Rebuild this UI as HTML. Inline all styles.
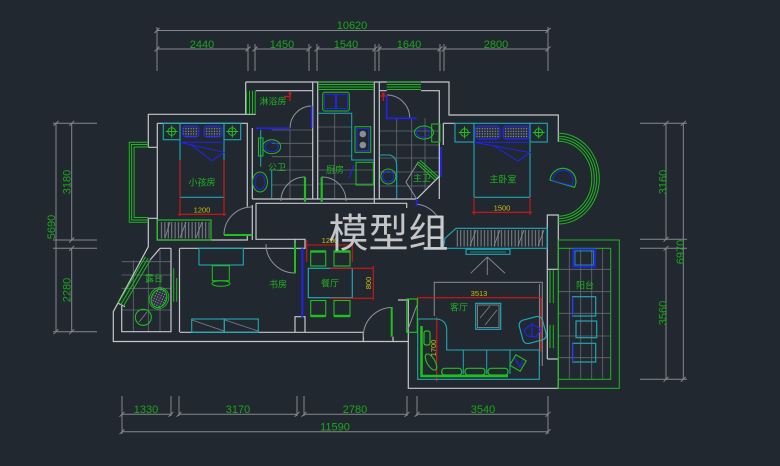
<!DOCTYPE html>
<html><head><meta charset="utf-8"><style>
html,body{margin:0;padding:0;background:#212830;}
svg{display:block}
text{font-family:"Liberation Sans","Noto Sans CJK SC",sans-serif;}
</style></head><body>
<svg width="780" height="466" viewBox="0 0 780 466" xmlns="http://www.w3.org/2000/svg">
<defs>
<pattern id="dots" width="2.6" height="2.6" patternUnits="userSpaceOnUse"><rect width="2.6" height="2.6" fill="#283040"/><circle cx="1.3" cy="1.3" r="0.6" fill="#a0a0a8"/></pattern>
<pattern id="hatch" width="3.4" height="30" patternUnits="userSpaceOnUse"><line x1="1.7" y1="0" x2="1.7" y2="30" stroke="#8e9196" stroke-width="0.9"/></pattern>
</defs>
<rect width="780" height="466" fill="#212830"/>

<!-- ================= DIMENSIONS ================= -->
<g stroke="#84878c" stroke-width="1" fill="none">
<!-- top -->
<path d="M157 30.5H548 M157 27V71 M548 27V71 M248 44V71 M255 44V71 M309 44V71 M317 44V71 M375 44V71 M379 44V71 M440 44V71 M444 44V71
M157 49H248 M255 49H309 M317 49H375 M379 49H440 M444 49H548"/>
<path d="M154.5 33L159.5 28 M545.5 33L550.5 28 M154.5 51.5L159.5 46.5 M245.5 51.5L250.5 46.5 M252.5 51.5L257.5 46.5 M306.5 51.5L311.5 46.5 M314.5 51.5L319.5 46.5 M372.5 51.5L377.5 46.5 M376.5 51.5L381.5 46.5 M437.5 51.5L442.5 46.5 M441.5 51.5L446.5 46.5 M545.5 51.5L550.5 46.5"/>
<!-- bottom -->
<path d="M122 396V434 M171 396V416 M179 396V416 M297 396V416 M304 396V416 M407 396V416 M417 396V416 M548 396V434
M122 414.3H171 M179 414.3H297 M304 414.3H407 M417 414.3H548 M122 431.7H548"/>
<path d="M119.5 416.8L124.5 411.8 M168.5 416.8L173.5 411.8 M176.5 416.8L181.5 411.8 M294.5 416.8L299.5 411.8 M301.5 416.8L306.5 411.8 M404.5 416.8L409.5 411.8 M414.5 416.8L419.5 411.8 M545.5 416.8L550.5 411.8 M119.5 434.2L124.5 429.2 M545.5 434.2L550.5 429.2"/>
<!-- left -->
<path d="M53 123.3H97 M53 240H97 M53 248.3H97 M53 331.7H97 M56 123.3V331.7 M71.7 123.3V240 M71.7 248.3V331.7"/>
<path d="M53.5 125.8L58.5 120.8 M53.5 334.2L58.5 329.2 M69.2 125.8L74.2 120.8 M69.2 242.5L74.2 237.5 M69.2 250.8L74.2 245.8 M69.2 334.2L74.2 329.2"/>
<!-- right -->
<path d="M640 123.3H687 M640 239.3H687 M640 248.3H687 M640 379.3H687 M666 123.3V239.3 M666 248.3V379.3 M683.3 123.3V379.3"/>
<path d="M663.5 125.8L668.5 120.8 M663.5 241.8L668.5 236.8 M663.5 250.8L668.5 245.8 M663.5 381.8L668.5 376.8 M680.8 125.8L685.8 120.8 M680.8 381.8L685.8 376.8"/>
</g>
<g fill="#1ea51e" font-size="11" text-anchor="middle">
<text x="352" y="29">10620</text>
<text x="202" y="48">2440</text>
<text x="282" y="48">1450</text>
<text x="346" y="48">1540</text>
<text x="409" y="48">1640</text>
<text x="496" y="48">2800</text>
<text x="146" y="413">1330</text>
<text x="238" y="413">3170</text>
<text x="355" y="413">2780</text>
<text x="483" y="413">3540</text>
<text x="335" y="430.5">11590</text>
<text transform="translate(70.5,182) rotate(-90)">3180</text>
<text transform="translate(55,227) rotate(-90)">5690</text>
<text transform="translate(70.5,290) rotate(-90)">2280</text>
<text transform="translate(666.5,182) rotate(-90)">3160</text>
<text transform="translate(684,252) rotate(-90)">6970</text>
<text transform="translate(666.5,313) rotate(-90)">3560</text>
</g>

<!-- ================= FLOOR GRIDS ================= -->
<g stroke="#666a70" stroke-width="0.8" fill="none">
<!-- public bath -->
<path d="M271.7 130H312.7 M271.7 143.3H312.7 M271.7 156.7H312.7 M271.7 170H312.7 M271.7 185H312.7 M290 130V199"/>
<!-- kitchen -->
<path d="M317.7 127H351.7 M317.7 141H351.7 M317.7 156H351.7 M317.7 170H374 M317.7 184H374 M334.7 113.3V199"/>
<!-- master bath -->
<path d="M379.3 131H440 M379.3 145H440 M379.3 158H440 M379.3 172H440 M379.3 186H430 M396.7 118.3V199 M411.7 118.3V199 M425 118.3V190"/>
<!-- terrace -->
<path d="M121.7 261.7H170.7 M121.7 275H170.7 M121.7 288.3H170.7 M121.7 310H170.7 M133.3 260V331.7 M148.3 260V331.7 M160 250V331.7"/>
<!-- balcony -->
<path d="M569.3 248.3V379.3 M580.7 248.3V379.3 M591.7 248.3V379.3 M602.7 248.3V379.3 M558.3 269.3H610.7 M558.3 291.7H610.7 M558.3 313.3H610.7 M558.3 336H610.7 M558.3 357.7H610.7"/>
</g>

<!-- ================= WALLS ================= -->
<g stroke="#c5c7cb" stroke-width="1.2" fill="none">
<path d="M148.3 147.3V114.3H255.7 M148.3 147.3H157.3 M148.3 218.3H157.3 M148.3 218.3V246.7L113.3 311.7V341.5H408.3"/>
<path d="M157.3 123.3H247.3V206.7 M157.3 123.3V240H247.3V235 M252.3 128V199 M252.3 205V240"/>
<path d="M245.7 82V114.3 M245.7 82H449V115H558.3V141.7 M255.7 90.7H312.7 M379.3 90.7H386.7 M421 90.7H439.3V199"/>
<path d="M312.7 82V199 M317.7 82V199 M374.3 82V203.3 M379.3 82V199 M443.3 123.3H455 M443.3 123.3V145"/>
<path d="M252.3 199H416.7L440 175.7 M256 203.3H406.7V208 M256 203.3V239.3H295"/>
<path d="M295 239.3H305V248.3H295Z M295 316.7H305V332.3H295Z M180 248.3H295 M160 248.3H171 M150 260L160 248.3"/>
<path d="M171 248.3V332.3 M179.5 248.3V332.3 M180 332.3H295 M121.7 306V331.7H171 M118.3 303.3L125 306.7"/>
<path d="M305 332.3H363.3V341.5 M393 336.7V341.5 M398 300H408.3V388.3H558.3V359 M547.3 359H558.3"/>
<path d="M547.3 215H558.3V269.3H547.3Z M547.3 269.3V359 M558.3 224V240"/>
<path d="M430 216.7H443V248.3H430 M430 227H443 M430 237.5H443"/>
</g>

<!-- door arcs -->
<g stroke="#8f9398" stroke-width="1" fill="none">
<path d="M224 235A28 28 0 0 1 252 207"/>
<path d="M266 244A29 29 0 0 0 295 273"/>
<path d="M363.3 336.7A29 29 0 0 1 391.7 307.5"/>
<path d="M305 177A24 24 0 0 0 281 201"/>
<path d="M321.7 177A24 24 0 0 1 346 201"/>
<path d="M290 128.3A21.7 22.3 0 0 1 311.7 106"/>
<path d="M386.7 95A23 23 0 0 1 409.7 118.3"/>
<path d="M416 204A30 30 0 0 1 437 216"/>
<path d="M407 332L417 305"/>
<path d="M418.3 162L406 182L416.7 199"/>
</g>

<!-- ================= WINDOWS (green) ================= -->
<g stroke="#1fb81f" stroke-width="1" fill="none">
<path d="M317.7 82H374.3 M317.7 84.5H374.3 M317.7 87H374.3 M317.7 89.5H374.3"/>
<path d="M386.7 82H421 M386.7 84.5H421 M386.7 87H421 M386.7 89.5H421"/>
<path d="M246.5 90.7V114 M249.5 90.7V114 M252.5 90.7V114 M255.2 90.7V114"/>
<path d="M148.3 142.3H129.3V222.3H148.3 M148.3 144.5H131.6V220H148.3 M148.3 147H134.1V217.5H148.3"/>
<path d="M145.5 256.7L118.3 303.3 M148 258.2L120.8 304.8 M150.5 259.7L123.3 306.3"/>
<path d="M173.7 268.3V301.7 M176.7 278V301.7"/>
<path d="M553.3 270V303.3 M553.3 325V348.3"/>
<path d="M558.3 133.3A41 45.3 0 0 1 558.3 224 M558.3 136.2A38.5 42.5 0 0 1 558.3 221.2 M558.3 138.7A36 40 0 0 1 558.3 218.7 M558.3 141.2A33.5 37.5 0 0 1 558.3 216.2"/>
<rect x="558.3" y="240" width="61" height="148.3"/>
<rect x="558.3" y="248.3" width="52.4" height="131"/>
</g>

<!-- ================= KIDS ROOM ================= -->
<g fill="none">
<rect x="163.3" y="123.3" width="16.7" height="16.4" stroke="#1fa8b4" stroke-width="1.1"/>
<rect x="224" y="123.3" width="16.7" height="16.4" stroke="#1fa8b4" stroke-width="1.1"/>
<rect x="180" y="123.3" width="44" height="74" stroke="#1fa8b4" stroke-width="1.1"/>
<rect x="182.7" y="126" width="16.3" height="11" rx="3" fill="url(#dots)" stroke="#2222ee" stroke-width="1.2"/>
<rect x="204" y="126" width="18" height="11" rx="3" fill="url(#dots)" stroke="#2222ee" stroke-width="1.2"/>
<path d="M180 142.3H224 M180 142.3L224 152.3L212 160.7L190 144" stroke="#2222ee" stroke-width="1"/>
<g stroke="#1fbf1f" stroke-width="1"><circle cx="171.7" cy="131.5" r="3.8"/><path d="M165.7 131.5H177.7 M171.7 125.5V137.5"/><circle cx="232.3" cy="131.5" r="3.8"/><path d="M226.3 131.5H238.3 M232.3 125.5V137.5"/></g>
<path d="M180 160V216 M224 160V216 M178 214.3H226" stroke="#d41515" stroke-width="1.1"/>
<rect x="157.3" y="220" width="53.7" height="20" stroke="#1fbf1f" stroke-width="1.2"/>
<rect x="159" y="222" width="50.5" height="16.5" fill="url(#hatch)"/>
<path d="M165 238L170 222 M180 238L186 222 M196 238L202 222" stroke="#8e9196" stroke-width="0.8"/>
<path d="M224 235H252.3" stroke="#1fbf1f" stroke-width="2"/>
</g>

<!-- ================= BATHS / KITCHEN ================= -->
<g fill="none" stroke-width="1">
<path d="M255.7 128.3H290 M311.7 105.7V128.3" stroke="#2222ee" stroke-width="1.6"/>
<path d="M284 96.5H290 M290 92V101" stroke="#d41515" stroke-width="1.2"/><circle cx="290" cy="93.5" r="1.5" fill="#d41515"/>
<path d="M380.5 96H386 M383.3 93V101" stroke="#d41515" stroke-width="1.2"/><circle cx="383.3" cy="94" r="1.5" fill="#d41515"/>
<path d="M260.7 130V166.7 M271.7 170V198" stroke="#1fa8b4"/>
<rect x="258.5" y="138" width="4.5" height="18" stroke="#1fbf1f"/>
<ellipse cx="271.7" cy="146.7" rx="9" ry="7" stroke="#1fbf1f"/>
<ellipse cx="271.7" cy="146.7" rx="6.5" ry="5" stroke="#2222ee"/>
<ellipse cx="260" cy="182" rx="7.5" ry="10" stroke="#1fbf1f"/>
<ellipse cx="260" cy="182" rx="5" ry="7.5" stroke="#2222ee"/>
<path d="M305 177V201.7 M321.7 177V201.7" stroke="#1fbf1f" stroke-width="2.2"/>
<!-- kitchen -->
<rect x="322.7" y="92.3" width="26.6" height="18.7" rx="2" stroke="#1fbf1f"/>
<rect x="324.5" y="94.5" width="11" height="14" stroke="#2222ee"/><rect x="336.5" y="94.5" width="11" height="14" stroke="#2222ee"/>
<path d="M317.7 113.3H351.7V160H374" stroke="#1fa8b4"/>
<rect x="355" y="126.7" width="15.7" height="25.6" stroke="#1fbf1f"/>
<rect x="357" y="128.5" width="11.7" height="22" stroke="#2222ee"/>
<circle cx="362.8" cy="134" r="3.3" fill="#8a8d92"/><circle cx="362.8" cy="145" r="3.3" fill="#8a8d92"/>
<rect x="356" y="162.3" width="17.3" height="22.7" stroke="#1fbf1f"/>
<path d="M349 178L354 165" stroke="#2222ee" stroke-width="1.2"/>
<!-- master bath -->
<path d="M386.7 95V118.3H416.7" stroke="#2222ee" stroke-width="1.6"/>
<ellipse cx="424" cy="132.5" rx="9.5" ry="6.5" stroke="#1fbf1f"/>
<ellipse cx="423" cy="132.5" rx="6.5" ry="4.5" stroke="#2222ee"/>
<path d="M431.7 124H440V142H431.7Z" stroke="#1fbf1f"/>
<path d="M379.3 155H390Q396.7 157 396.7 166.7V198.3" stroke="#1fa8b4"/>
<circle cx="388.3" cy="176.5" r="7.5" stroke="#1fbf1f"/>
<circle cx="388.3" cy="176.5" r="5.5" stroke="#2222ee"/>
<path d="M418.3 161.7L436.7 178.3 M420 160.2L438.3 176.8 M416.8 163.3L435 180" stroke="#1fbf1f"/>
<path d="M441 147V176.7 M416.7 199V206" stroke="#2222ee" stroke-width="1.8"/>
</g>

<!-- ================= MASTER BEDROOM ================= -->
<g fill="none">
<rect x="455" y="123.3" width="19" height="18.7" stroke="#1fa8b4" stroke-width="1.1"/>
<rect x="530" y="123.3" width="17.3" height="18.7" stroke="#1fa8b4" stroke-width="1.1"/>
<rect x="474" y="123.3" width="56" height="74" stroke="#1fa8b4" stroke-width="1.1"/>
<rect x="475.5" y="126" width="24.5" height="13" rx="3" fill="url(#dots)" stroke="#2222ee" stroke-width="1.2"/>
<rect x="503" y="126" width="26" height="13" rx="3" fill="url(#dots)" stroke="#2222ee" stroke-width="1.2"/>
<path d="M474 142.3H530 M474 142.3L530 152.5L518 161L494 146" stroke="#2222ee" stroke-width="1"/>
<g stroke="#1fbf1f" stroke-width="1"><circle cx="464.5" cy="132.5" r="3.8"/><path d="M458.5 132.5H470.5 M464.5 126.5V138.5"/><circle cx="538.7" cy="132.5" r="3.8"/><path d="M532.7 132.5H544.7 M538.7 126.5V138.5"/></g>
<path d="M474 197V215 M530 197V215 M472 212.3H532" stroke="#d41515" stroke-width="1.1"/>
<path d="M550 180A13 13 0 1 1 574.5 187.3Z" stroke="#1fbf1f" stroke-width="1.1"/>
<path d="M553 180.5A10 10 0 1 1 571.5 185.5Z" stroke="#2222ee" stroke-width="1.1"/>
<!-- wardrobe -->
<path d="M445 238.3L456 228.3H547V248.3H443.3Z" stroke="#1fa8b4" stroke-width="1.1"/>
<rect x="456" y="230" width="89" height="16.5" fill="url(#hatch)"/>
<path d="M470 246L476 230 M494 246L500 230 M518 246L524 230 M538 246L544 230" stroke="#8e9196" stroke-width="0.8"/>
<rect x="466" y="249.3" width="44" height="5" stroke="#1fa8b4" stroke-width="1.1"/>
<path d="M470 252H506" stroke="#1fa8b4" stroke-width="0.8"/>
<path d="M487.3 257V275 M487.3 257L470.7 273.3 M487.3 257L505 273.3" stroke="#7f8388" stroke-width="1"/>
</g>

<!-- ================= STUDY / DINING ================= -->
<g fill="none">
<rect x="199" y="248.3" width="44.3" height="16.7" stroke="#1fa8b4" stroke-width="1.1"/>
<rect x="212.3" y="265.7" width="17" height="15" stroke="#1fbf1f"/>
<ellipse cx="221" cy="283.5" rx="9" ry="2.8" stroke="#1fbf1f"/>
<rect x="191.7" y="319" width="32.6" height="13.3" stroke="#1fa8b4" stroke-width="1.1"/>
<rect x="224.3" y="319" width="34" height="13.3" stroke="#1fa8b4" stroke-width="1.1"/>
<path d="M192 320L224 331 M225 320L258 331" stroke="#7f8388" stroke-width="0.8"/>
<path d="M295 243V273.3" stroke="#1fbf1f" stroke-width="2"/>
<path d="M302.3 248.3V317.3" stroke="#2222ee" stroke-width="2"/>
<path d="M391.7 307V336.7" stroke="#1fbf1f" stroke-width="2"/>
<rect x="308.3" y="268.3" width="44" height="29.4" stroke="#1fa8b4" stroke-width="1.2"/>
<g stroke="#1fbf1f" stroke-width="1.1">
<rect x="310.7" y="251" width="15" height="15"/><path d="M310.7 251.5H325.7" stroke-width="2.4"/>
<rect x="334" y="251" width="16" height="15"/><path d="M334 251.5H350" stroke-width="2.4"/>
<rect x="310.7" y="300.5" width="15" height="15.5"/><path d="M310.7 316H325.7" stroke-width="2.4"/>
<rect x="334" y="300.5" width="16" height="15.5"/><path d="M334 316H350" stroke-width="2.4"/>
</g>
<path d="M306.7 245H352.3 M306.7 240V262 M352.3 240V262 M330 268.3H373.3 M330 298.3H373.3 M373.3 266V300" stroke="#d41515" stroke-width="1.1"/>
</g>

<!-- ================= TERRACE ================= -->
<g fill="none">
<ellipse cx="159" cy="298.3" rx="7.5" ry="9.5" transform="rotate(25 159 298.3)" fill="url(#dots)" stroke="#1fbf1f" stroke-width="1.1"/>
<ellipse cx="159" cy="298.3" rx="9.5" ry="11" transform="rotate(25 159 298.3)" stroke="#1fbf1f" stroke-width="0.8"/>
<circle cx="143.3" cy="317.3" r="8" stroke="#1fbf1f" stroke-width="1.1"/>
<path d="M139 322L147 312" stroke="#7f8388" stroke-width="0.8"/>
</g>

<!-- ================= LIVING ================= -->
<g fill="none">
<path d="M434.3 316V282.3H542.3V366 M539.5 284V366" stroke="#80848a" stroke-width="1.1"/>
<path d="M416.7 297.7H541 M541 297.7V351.7 M417.7 297.7V306 M436.7 316.7V381.7" stroke="#d41515" stroke-width="1.1"/>
<rect x="475.7" y="303.3" width="25" height="26" stroke="#1fa8b4" stroke-width="1.2"/>
<rect x="477.5" y="305" width="21.5" height="22.5" stroke="#80848a" stroke-width="0.9"/>
<path d="M480 318L490 306 M485 325L497 310" stroke="#80848a" stroke-width="0.8"/>
<path d="M417.7 319H436.7Q446.7 320 446.7 330V350H539.3V379.3H417.7Z" stroke="#1fa8b4" stroke-width="1.1"/>
<path d="M463.3 350V374 M486.7 350V374 M510 350V374" stroke="#1fa8b4" stroke-width="1"/>
<path d="M421.5 326V376H508" stroke="#1fbf1f" stroke-width="2.5"/>
<g stroke="#1fbf1f" stroke-width="1.2">
<rect x="441.7" y="368.3" width="20" height="6.7" rx="3"/>
<rect x="465" y="368.3" width="20" height="6.7" rx="3"/>
<rect x="488" y="368.3" width="20" height="6.7" rx="3"/>
<rect x="424" y="331" width="6" height="14" rx="2"/>
<ellipse cx="431" cy="362" rx="4" ry="9" transform="rotate(-30 431 362)"/>
</g>
<rect x="520.7" y="318" width="24" height="24" rx="5" transform="rotate(-15 532.7 330)" stroke="#1fa8b4" stroke-width="1.2"/>
<path d="M524 330L532 324L541 329L536 337L527 336Z M532 324V337" stroke="#2222ee" stroke-width="1.2"/>
<rect x="512" y="357" width="12" height="12" transform="rotate(30 518 363)" stroke="#1fbf1f" stroke-width="1.1"/>
<path d="M515 358L520 367L523 360" stroke="#2222ee" stroke-width="1.2"/>
<rect x="406.7" y="299" width="10.6" height="33.3" stroke="#1fbf1f" stroke-width="1.2"/>
<path d="M550 270V303 M550 325V348" stroke="#1fbf1f" stroke-width="1"/>
</g>

<!-- ================= BALCONY objects ================= -->
<g fill="none">
<rect x="573.3" y="249.3" width="21.7" height="17.4" stroke="#2222ee" stroke-width="1.8"/>
<rect x="575" y="251" width="18.3" height="14" stroke="#1fa8b4" stroke-width="0.8"/>
<rect x="572.7" y="296.7" width="23" height="19.3" stroke="#1fa8b4" stroke-width="1.2"/>
<rect x="576" y="321" width="20.7" height="16.7" stroke="#1fa8b4" stroke-width="1.2"/>
<rect x="572.7" y="343.3" width="23" height="18.7" stroke="#1fa8b4" stroke-width="1.2"/>
<path d="M573 297V316 M573 343.5V362" stroke="#2222ee" stroke-width="1.2"/>
</g>

<!-- ================= LABELS ================= -->
<g fill="#22b222" font-size="9" text-anchor="middle">
<text x="273" y="104.5">淋浴房</text>
<text x="277" y="170.5">公卫</text>
<text x="335" y="173">厨房</text>
<text x="422" y="181.5">主卫</text>
<text x="202" y="185.5">小孩房</text>
<text x="503" y="182.5">主卧室</text>
<text x="154" y="281.5">露台</text>
<text x="278" y="287.5">书房</text>
<text x="330" y="286.5">餐厅</text>
<text x="459" y="310.5">客厅</text>
<text x="585" y="288.5">阳台</text>
</g>
<g fill="#c8c010" font-size="7.5" text-anchor="middle">
<text x="202" y="212.5">1200</text>
<text x="502" y="210.5">1500</text>
<text x="330" y="243">1200</text>
<text x="479" y="296">3513</text>
<text transform="translate(371,283) rotate(-90)">800</text>
<text transform="translate(436,348) rotate(-90)">1700</text>
</g>

<!-- watermark -->
<text x="388.5" y="247" font-size="40" text-anchor="middle" fill="#d2d3d5" fill-opacity="0.92" style="font-family:'Noto Sans CJK SC','WenQuanYi Zen Hei',sans-serif;">模型组</text>
</svg>
</body></html>
